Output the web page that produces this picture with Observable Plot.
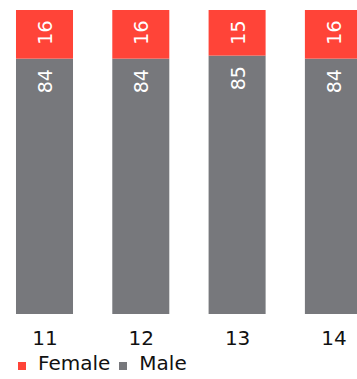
<!DOCTYPE html>
<html>
<head>
<meta charset="utf-8">
<script src="https://cdn.jsdelivr.net/npm/d3@7"></script>
<script src="https://cdn.jsdelivr.net/npm/@observablehq/plot@0.6"></script>
<style>
  html, body { margin: 0; padding: 0; background: #fff; overflow: hidden; }
  #chart svg { overflow: hidden; display: block; }
  .legend { font-family: "DejaVu Sans", sans-serif; font-size: 20px; color: #111; line-height: 23px; height: 23px; margin-top: 2px; padding-left: 18px; white-space: nowrap; }
  .legend .item { display: inline-block; margin-right: 9px; }
  .legend .sw { display: inline-block; width: 8px; height: 8px; margin-right: 12px; vertical-align: baseline; }
</style>
</head>
<body>
<div id="chart"></div>
<script>
const years = ["11", "12", "13", "14"];
const female = [16, 16, 15, 16];
const male = [84, 84, 85, 84];
const seriesNames = ["Female", "Male"];
const seriesColors = ["#ff4438", "#77787c"];

const data = [];
years.forEach((yr, i) => {
  data.push({year: yr, sex: "Male", value: male[i]});
  data.push({year: yr, sex: "Female", value: female[i]});
});

const chart = Plot.plot({
  width: 357,
  height: 350,
  marginTop: 10,
  marginBottom: 36,
  marginLeft: 0,
  marginRight: 0,
  style: {fontFamily: "DejaVu Sans, sans-serif", fontSize: "20px", color: "#111", background: "#fff"},
  x: {type: "band", domain: years, range: [-23.3, 401.2], padding: 0.408, round: false, label: null, tickSize: 0, tickPadding: 16},
  y: {domain: [0, 100], axis: null},
  color: {domain: seriesNames, range: seriesColors},
  marks: [
    Plot.barY(data, Plot.stackY({x: "year", y: "value", z: "sex", fill: "sex", order: null})),
    Plot.text(data, Plot.stackY2({x: "year", y: "value", z: "sex", text: "value", order: null, rotate: -90, textAnchor: "end", fill: "white", fontSize: 19, dy: 10, dx: 1}))
  ]
});
document.getElementById("chart").appendChild(chart);

const legend = document.createElement("div");
legend.className = "legend";
seriesNames.forEach((name, i) => {
  const item = document.createElement("span");
  item.className = "item";
  const sw = document.createElement("span");
  sw.className = "sw";
  sw.style.background = seriesColors[i];
  item.appendChild(sw);
  item.appendChild(document.createTextNode(name));
  legend.appendChild(item);
});
document.body.appendChild(legend);
</script>
</body>
</html>
